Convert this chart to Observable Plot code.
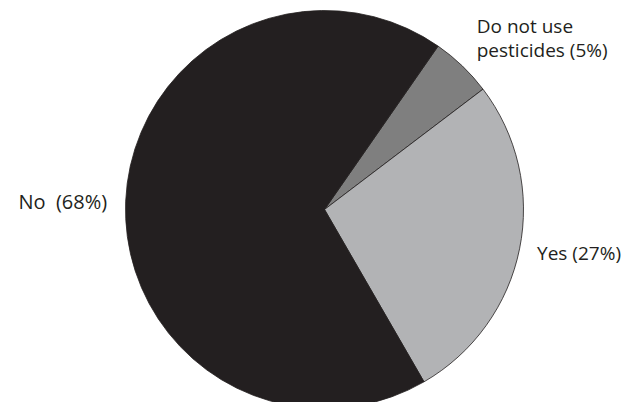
<!DOCTYPE html>
<html>
<head>
<meta charset="utf-8">
<script src="https://cdn.jsdelivr.net/npm/d3@7"></script>
<script src="https://cdn.jsdelivr.net/npm/@observablehq/plot@0.6"></script>
<style>
  html, body { margin: 0; padding: 0; background: #fff; overflow: hidden; }
</style>
</head>
<body>
<div id="chart"></div>
<script>
// Data
const categories = ["Do not use pesticides", "Yes", "No"];
const shares = [5, 27, 68];
const labels = ["Do not use\npesticides (5%)", "Yes (27%)", "No  (68%)"];
const colors = ["#7f7f7f", "#b2b3b5", "#231f20"];

const startDeg = 34.8;
const start = startDeg * Math.PI / 180;
const arcs = d3.pie().sort(null).startAngle(start).endAngle(start + 2 * Math.PI)(shares);

const rows = categories.map((c, i) => {
  const mid = (arcs[i].startAngle + arcs[i].endAngle) / 2;
  return { category: c, share: shares[i], label: labels[i], mx: Math.sin(mid), my: Math.cos(mid) };
});

const labelStyle = {
  "Do not use pesticides": { dx: 14, dy: -29, anchor: "start", size: 19 },
  "Yes": { dx: 17, dy: 3, anchor: "start", size: 19 },
  "No": { dx: -19, dy: -1, anchor: "end", size: 20 }
};

const pie = (index, scales) => {
  const cx = scales.x(0), cy = scales.y(0);
  const r = scales.x(1) - scales.x(0);
  const arc = d3.arc().innerRadius(0).outerRadius(r);
  const g = d3.create("svg:g").attr("transform", `translate(${cx},${cy})`);
  g.selectAll("path").data(arcs).join("path")
    .attr("d", arc)
    .attr("fill", (d, i) => scales.color(categories[i]))
    .attr("stroke", "#231f20")
    .attr("stroke-width", 0.8)
    .attr("stroke-linejoin", "round");
  return g.node();
};

const textMarks = rows.map(d => Plot.text([d], {
  x: "mx", y: "my", text: "label",
  textAnchor: labelStyle[d.category].anchor,
  lineAnchor: "middle",
  lineHeight: 1.26,
  dx: labelStyle[d.category].dx,
  dy: labelStyle[d.category].dy,
  fontSize: labelStyle[d.category].size,
  fill: "#231f20"
}));

const chart = Plot.plot({
  width: 627,
  height: 402,
  margin: 0,
  style: { fontFamily: "'Open Sans', sans-serif", background: "#fff", overflow: "hidden" },
  x: { domain: [-1, 1], range: [125.5, 523.5], axis: null },
  y: { domain: [-1, 1], range: [408.5, 10.5], axis: null },
  color: { domain: categories, range: colors },
  marks: [
    Plot.dot(rows, { x: "mx", y: "my", fill: "category", r: 0 }),
    pie,
    ...textMarks
  ]
});
document.getElementById("chart").appendChild(chart);
</script>
</body>
</html>
